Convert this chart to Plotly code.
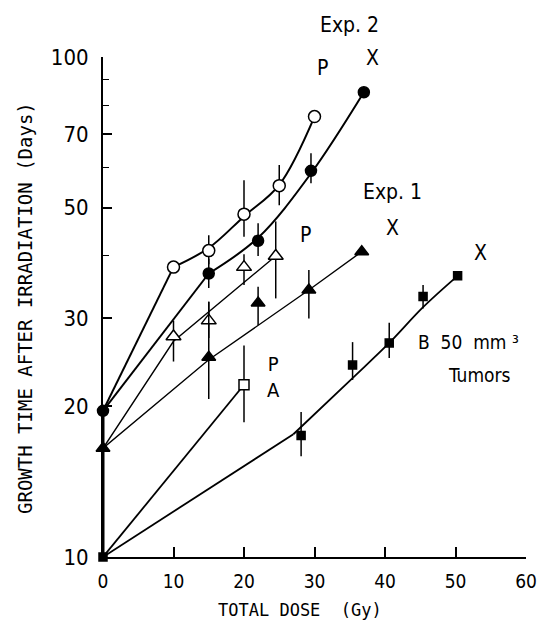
import plotly.graph_objects as go

# ---------------- data ----------------
# Exp. 2, P  (open circles)
exp2_p_x = [10, 15, 20, 25, 30]
exp2_p_y = [38, 41, 48.5, 55.3, 76]
exp2_p_hi = [38, 44, 56.7, 60.8, 76]
exp2_p_lo = [38, 38.5, 43.7, 50.5, 76]

# Exp. 2, X  (filled circles)
exp2_x_x = [0, 15, 22, 29.5, 37]
exp2_x_y = [19.6, 36.9, 42.9, 59.2, 85]
exp2_x_hi = [19.6, 39.5, 46.5, 64.2, 85]
exp2_x_lo = [19.6, 34.5, 40.0, 55.9, 85]

# Exp. 1, P  (open triangles)
exp1_p_x = [10, 15, 20, 24.5]
exp1_p_y = [27.6, 29.7, 38, 40]
exp1_p_hi = [29.7, 32.4, 40.3, 46.9]
exp1_p_lo = [24.6, 27.4, 35.0, 32.9]

# Exp. 1, X  (filled triangles)
exp1_x_x = [0, 15, 22, 29.2, 36.7]
exp1_x_y = [16.5, 25.1, 32.2, 34.2, 40.8]
exp1_x_hi = [16.5, 32.4, 34.7, 37.5, 40.8]
exp1_x_lo = [16.5, 20.7, 29.1, 30.0, 40.8]

# B 50 mm3 tumors, P A  (open square)
pa_x = [20]
pa_y = [22.1]
pa_hi = [26.5]
pa_lo = [18.6]

# B 50 mm3 tumors, X  (filled squares)
b50_x = [0, 28.1, 35.4, 40.6, 45.4, 50.3]
b50_y = [10, 17.5, 24.2, 26.8, 33.2, 36.5]
b50_hi = [10, 19.5, 26.9, 29.4, 35.0, 36.5]
b50_lo = [10, 15.9, 22.6, 25.0, 31.4, 36.5]

# fitted curves drawn in the figure (straight part + curved part)
exp2_p_fit1_x, exp2_p_fit1_y = [0, 10], [19.6, 38]
exp2_p_fit2_x, exp2_p_fit2_y = [10, 15, 20, 25, 30], [38, 41.5, 48, 55.5, 76]
exp2_x_fit1_x, exp2_x_fit1_y = [0, 15], [19.6, 36.9]
exp2_x_fit2_x, exp2_x_fit2_y = [15, 22, 29.5, 37], [36.9, 43.5, 58.5, 85]
exp1_p_fit_x, exp1_p_fit_y = [0, 10, 24.5], [16.5, 27, 40]
exp1_x_fit_x, exp1_x_fit_y = [0, 15, 29.2, 36.7], [16.5, 24.8, 34.2, 40.8]
pa_fit_x, pa_fit_y = [0, 20], [10, 22.1]
b50_fit1_x, b50_fit1_y = [0, 27], [10, 17.6]
b50_fit2_x, b50_fit2_y = [27, 35.4, 40.6, 45.4, 50.3], [17.6, 22.8, 26.8, 31.6, 36.5]
base_x, base_y = [0, 0], [10, 19.6]

y_tickvals = [10, 20, 30, 50, 70, 100]
y_minor = [40, 60, 80, 90]
x_tickvals = [0, 10, 20, 30, 40, 50, 60]

# ---------------- figure ----------------
W, H = 538, 632
L, R, T, B = 103, 12, 57, 75
NARROW = "Liberation Sans Narrow, DejaVu Sans Condensed, Arial Narrow, sans-serif"
MONO = "DejaVu Sans Mono, Liberation Mono, monospace"

fig = go.Figure()


def line(xs, ys, width=1.6, shape="linear"):
    fig.add_trace(go.Scatter(x=xs, y=ys, mode="lines", cliponaxis=False,
                             line=dict(color="black", width=width, shape=shape,
                                       smoothing=1.0),
                             showlegend=False, hoverinfo="skip"))


def pts(xs, ys, hi, lo, symbol, size, filled):
    fig.add_trace(go.Scatter(
        x=xs, y=ys, mode="markers", cliponaxis=False,
        marker=dict(symbol=symbol, size=size, color="black" if filled else "white",
                    line=dict(color="black", width=1.5)),
        error_y=dict(type="data", symmetric=False,
                     array=[h - v for h, v in zip(hi, ys)],
                     arrayminus=[v - l for l, v in zip(lo, ys)],
                     color="black", thickness=1.5, width=0),
        showlegend=False))


line(base_x, base_y, width=3)
line(exp2_p_fit1_x, exp2_p_fit1_y, 2)
line(exp2_p_fit2_x, exp2_p_fit2_y, 2, "spline")
line(exp2_x_fit1_x, exp2_x_fit1_y, 2)
line(exp2_x_fit2_x, exp2_x_fit2_y, 2, "spline")
line(exp1_p_fit_x, exp1_p_fit_y, 1.4)
line(exp1_x_fit_x, exp1_x_fit_y, 1.4)
line(pa_fit_x, pa_fit_y, 1.8)
line(b50_fit1_x, b50_fit1_y, 1.8)
line(b50_fit2_x, b50_fit2_y, 1.8, "spline")

pts(exp2_p_x, exp2_p_y, exp2_p_hi, exp2_p_lo, "circle", 12, False)
pts(exp2_x_x, exp2_x_y, exp2_x_hi, exp2_x_lo, "circle", 11, True)
pts(exp1_p_x, exp1_p_y, exp1_p_hi, exp1_p_lo, "triangle-up", 13, False)
pts(exp1_x_x, exp1_x_y, exp1_x_hi, exp1_x_lo, "triangle-up", 12, True)
pts(pa_x, pa_y, pa_hi, pa_lo, "square", 10, False)
pts(b50_x, b50_y, b50_hi, b50_lo, "square", 8, True)


def P(xp, yp):
    return (xp - L) / (W - L - R), (T + (H - T - B) - yp) / (H - T - B)


def label(text, xp, yp, size=21, family=NARROW, xanchor="center", angle=0):
    ax, ay = P(xp, yp)
    fig.add_annotation(x=ax, y=ay, xref="paper", yref="paper", text=text,
                       showarrow=False, xanchor=xanchor, yanchor="middle",
                       textangle=angle, font=dict(family=family, size=size, color="black"))


label("Exp. 2", 349, 25)
label("P", 322, 68)
label("X", 372, 58)
label("Exp. 1", 392, 192)
label("P", 305, 235)
label("X", 392, 228)
label("X", 480, 253)
label("B\u00a0 50\u00a0 mm\u00a0³", 416, 342, size=19, xanchor="left")
label("Tumors", 479, 375, size=19)
label("P<br>A", 273, 377, size=20)
label("TOTAL DOSE\u00a0\u00a0(Gy)", 300, 610, size=17, family=MONO)
label("GROWTH TIME AFTER IRRADIATION (Days)", 25, 308, size=19, family=MONO, angle=-90)

fig.update_layout(
    width=W, height=H,
    margin=dict(l=L, r=R, t=T, b=B, pad=0),
    paper_bgcolor="white", plot_bgcolor="white",
    showlegend=False,
    xaxis=dict(range=[0, 60], tickvals=x_tickvals, ticks="inside", ticklen=10,
               tickwidth=1.5, tickcolor="black", showline=True, linecolor="black",
               linewidth=2, showgrid=False, zeroline=False, ticklabelstandoff=6,
               automargin=False, ticklabeloverflow="allow",
               tickfont=dict(family=NARROW, size=19, color="black")),
    yaxis=dict(type="log", range=[1, 2], tickvals=y_tickvals, ticks="inside",
               ticklen=9, tickwidth=1.5, tickcolor="black", showline=True,
               linecolor="black", linewidth=2, showgrid=False, zeroline=False,
               ticklabelstandoff=8, automargin=False, ticklabeloverflow="allow",
               tickfont=dict(family=NARROW, size=22, color="black"),
               minor=dict(tickvals=y_minor, ticks="inside", ticklen=6,
                          tickwidth=1.2, tickcolor="black", showgrid=False)),
)

fig.write_html("out.html", config={"displayModeBar": False},
               post_script="document.body.style.margin='0';")
